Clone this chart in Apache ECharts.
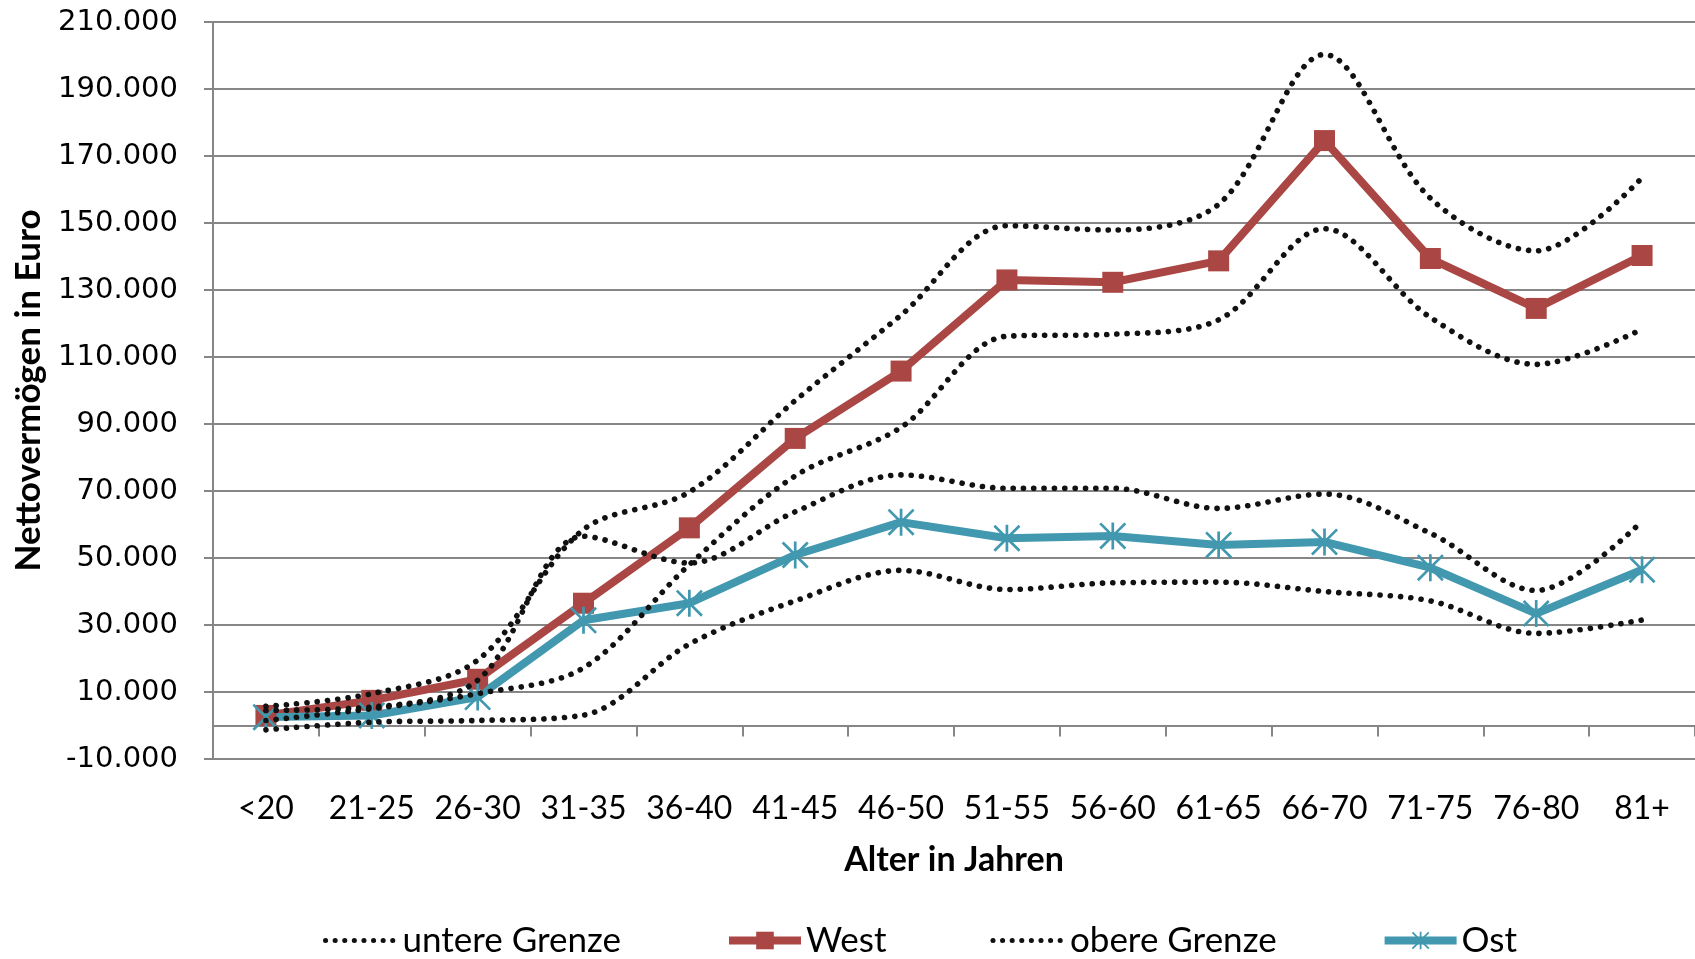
<!DOCTYPE html>
<html>
<head>
<meta charset="utf-8">
<script src="https://cdn.jsdelivr.net/npm/echarts@6/dist/echarts.min.js"></script>
<style>
  html, body { margin: 0; padding: 0; background: #fff; }
  #chart { width: 1695px; height: 959px; }
</style>
</head>
<body>
<div id="chart"></div>
<script>
// ---- data ----
const categories = ['<20','21-25','26-30','31-35','36-40','41-45','46-50','51-55','56-60','61-65','66-70','71-75','76-80','81+'];
const west      = [3000, 7500, 13800, 36500, 59000, 85700, 105800, 133000, 132300, 138700, 174600, 139400, 124500, 140300];
const westUpper = [5700, 9500, 19500, 58500, 69700, 97000, 122500, 149200, 147900, 155600, 200300, 157400, 141700, 163500];
const westLower = [1500, 5000, 9500, 17200, 48000, 74500, 89000, 116200, 116800, 121100, 148300, 121800, 107800, 118300];
const ost       = [2500, 3000, 8500, 31400, 36500, 50900, 60700, 55900, 56600, 53900, 54800, 47100, 33400, 46500];
const ostUpper  = [4500, 5500, 13500, 56500, 48500, 63800, 74800, 70800, 70800, 64800, 69100, 57400, 40300, 61000];
const ostLower  = [-1300, 1000, 1500, 3100, 24300, 37200, 46300, 40600, 42600, 42800, 40000, 37200, 27500, 31500];
const legendNames = ['untere Grenze', 'West', 'obere Grenze', 'Ost'];
const yMin = -10000, yMax = 210000, yStep = 20000;

const NARROW = "Lato, 'Open Sans', sans-serif";
const WIDE = "'DejaVu Sans', 'Liberation Sans', sans-serif";
const GRID = '#868686';
const RED = '#AA4643';
const TEAL = '#4198AF';
const DOT = '#111111';

const starPath = 'path://M9,0 L11,0 L11,20 L9,20 Z M0,1.4 L1.4,0 L20,18.6 L18.6,20 Z M18.6,0 L20,1.4 L1.4,20 L0,18.6 Z';

function fmt(v) {
  const s = Math.abs(v).toString().replace(/\B(?=(\d{3})+(?!\d))/g, '.');
  return (v < 0 ? '-' : '') + s;
}

const dotted = { color: DOT, width: 5.6, type: [0.1, 10.2], cap: 'round' };
const legendDotted = { width: 5, type: [0.1, 9.5], cap: 'round', color: DOT };

function boundSeries(name, data) {
  return {
    name: name, type: 'line', data: data, smooth: 0.33,
    symbol: 'none', z: 5,
    itemStyle: { color: DOT },
    lineStyle: dotted,
    emphasis: { disabled: true }
  };
}

const chart = echarts.init(document.getElementById('chart'), null, { renderer: 'canvas' });
chart.setOption({
  animation: false,
  backgroundColor: '#fff',
  grid: { left: 213, right: 0, top: 22, bottom: 200, containLabel: false, outerBoundsMode: 'none' },
  legend: {
    data: [
      { name: legendNames[0], itemStyle: { opacity: 0 }, lineStyle: legendDotted },
      { name: legendNames[1], lineStyle: { width: 8, color: RED } },
      { name: legendNames[2], itemStyle: { opacity: 0 }, lineStyle: legendDotted },
      { name: legendNames[3], lineStyle: { width: 8, color: TEAL } }
    ],
    left: 318, top: 918,
    itemWidth: 72, itemHeight: 22, itemGap: 104,
    textStyle: { fontFamily: NARROW, fontSize: 35, color: '#000' }
  },
  xAxis: {
    type: 'category', data: categories, boundaryGap: true,
    axisLine: { onZero: true, lineStyle: { color: GRID, width: 2 } },
    axisTick: { show: true, interval: 0, length: 11, lineStyle: { color: GRID, width: 2 } },
    axisLabel: { interval: 0, margin: 34, fontFamily: NARROW, fontSize: 32, color: '#000' },
    name: 'Alter in Jahren', nameLocation: 'middle', nameGap: 84,
    nameTextStyle: { fontFamily: NARROW, fontSize: 34, fontWeight: 'bold', color: '#000' }
  },
  yAxis: {
    type: 'value', min: yMin, max: yMax, interval: yStep,
    axisLine: { show: true, lineStyle: { color: GRID, width: 2 } },
    axisTick: { show: true, length: 9, lineStyle: { color: GRID, width: 2 } },
    splitLine: { show: true, lineStyle: { color: GRID, width: 2 } },
    axisLabel: { margin: 35, fontFamily: WIDE, fontSize: 29, color: '#000', formatter: fmt },
    name: 'Nettovermögen in Euro', nameLocation: 'middle', nameGap: 167,
    nameTextStyle: { fontFamily: NARROW, fontSize: 35, fontWeight: 'bold', color: '#000' }
  },
  series: [
    boundSeries('untere Grenze', westLower),
    {
      name: 'West', type: 'line', data: west, z: 3,
      symbol: 'rect', symbolSize: 21,
      itemStyle: { color: RED },
      lineStyle: { color: RED, width: 8 },
      emphasis: { disabled: true }
    },
    boundSeries('obere Grenze', westUpper),
    {
      name: 'Ost', type: 'line', data: ost, z: 3,
      symbol: starPath, symbolSize: 27,
      itemStyle: { color: TEAL },
      lineStyle: { color: TEAL, width: 8 },
      emphasis: { disabled: true }
    },
    boundSeries('untere Grenze', ostLower),
    boundSeries('obere Grenze', ostUpper)
  ]
});
</script>
</body>
</html>
